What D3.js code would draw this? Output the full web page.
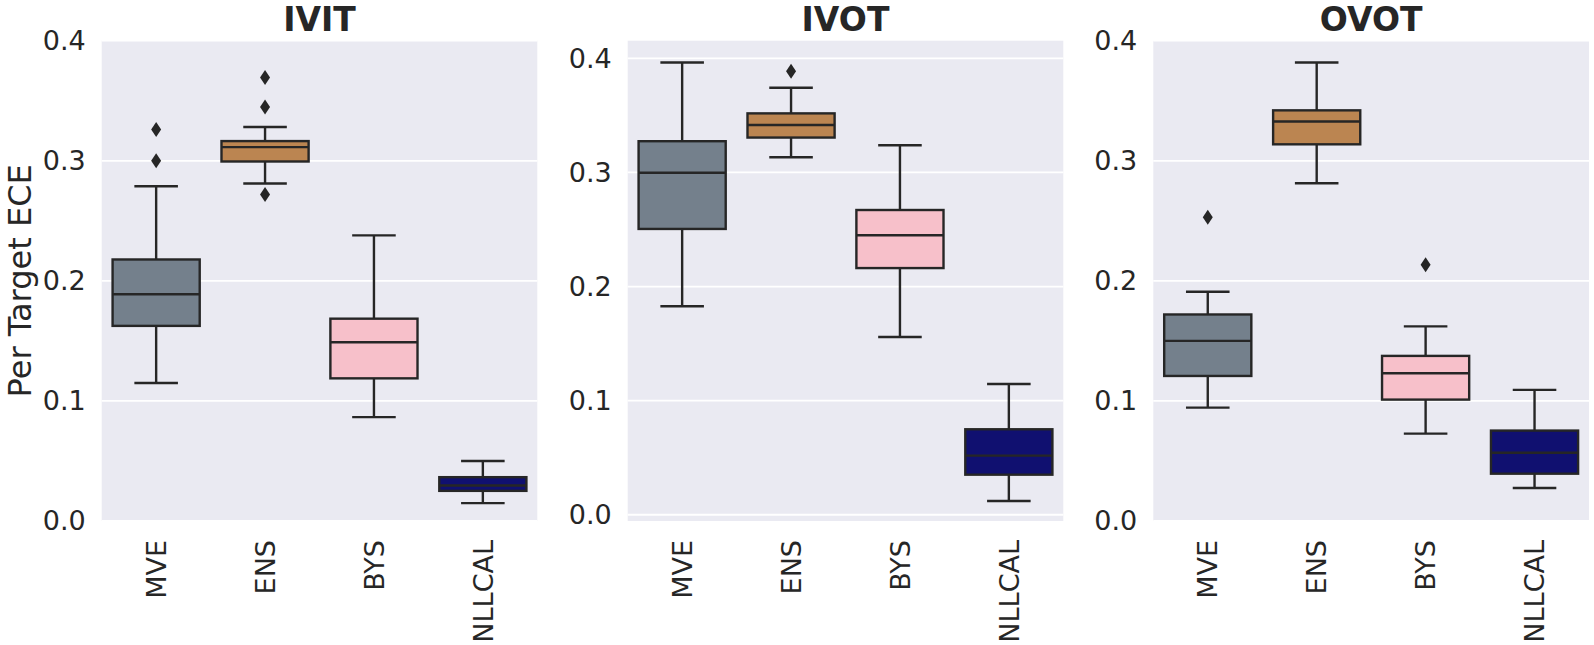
<!DOCTYPE html>
<html>
<head>
<meta charset="utf-8">
<script src="https://cdn.jsdelivr.net/npm/d3@7"></script>
<style>
  html, body { margin: 0; padding: 0; background: #ffffff; }
  svg { display: block; font-family: "DejaVu Sans", sans-serif; }
</style>
</head>
<body>
<svg id="chart" width="1594" height="645"></svg>
<script>
// ---------------- data ----------------
const categories = ["MVE", "ENS", "BYS", "NLLCAL"];
const panelTitles = ["IVIT", "IVOT", "OVOT"];
const yTickValues = [0.0, 0.1, 0.2, 0.3, 0.4];
const yAxisLabel = "Per Target ECE";

// IVIT
const ivitLow  = [0.1149, 0.2811, 0.0865, 0.0149];
const ivitQ1   = [0.1625, 0.2994, 0.1188, 0.0251];
const ivitMed  = [0.1889, 0.3114, 0.1489, 0.0296];
const ivitQ3   = [0.2178, 0.3164, 0.1685, 0.0365];
const ivitHigh = [0.2788, 0.3281, 0.2379, 0.0500];
const ivitOut  = [[0.300, 0.326], [0.3694, 0.3448, 0.2719], [], []];

// IVOT
const ivotLow  = [0.1827, 0.3134, 0.1558, 0.0120];
const ivotQ1   = [0.2505, 0.3306, 0.2162, 0.0351];
const ivotMed  = [0.2997, 0.3416, 0.2450, 0.0518];
const ivotQ3   = [0.3274, 0.3518, 0.2671, 0.0749];
const ivotHigh = [0.3964, 0.3742, 0.3239, 0.1146];
const ivotOut  = [[], [0.3888], [], []];

// OVOT
const ovotLow  = [0.0944, 0.2813, 0.0728, 0.0275];
const ovotQ1   = [0.1208, 0.3137, 0.1011, 0.0394];
const ovotMed  = [0.1500, 0.3327, 0.1231, 0.0569];
const ovotQ3   = [0.1720, 0.3420, 0.1375, 0.0753];
const ovotHigh = [0.1909, 0.3819, 0.1621, 0.1092];
const ovotOut  = [[0.253], [], [0.2135], []];

const yDomains = [[0, 0.4], [-0.0055, 0.4155], [0, 0.4]];

// ---------------- styles / layout ----------------
const boxColors = ["#74808C", "#BB8551", "#F7C0CA", "#101070"];
const lineColor = "#262626";
const textColor = "#262626";
const bgColor = "#EAEAF2";

const panelX = [[101.7, 537.3], [627.7, 1063.3], [1153.3, 1589]];
const plotTop = 40.7, plotBottom = 521;
const strokeW = 2.4;

const panels = [
  {title: panelTitles[0], low: ivitLow, q1: ivitQ1, med: ivitMed, q3: ivitQ3, high: ivitHigh, out: ivitOut, dom: yDomains[0]},
  {title: panelTitles[1], low: ivotLow, q1: ivotQ1, med: ivotMed, q3: ivotQ3, high: ivotHigh, out: ivotOut, dom: yDomains[1]},
  {title: panelTitles[2], low: ovotLow, q1: ovotQ1, med: ovotMed, q3: ovotQ3, high: ovotHigh, out: ovotOut, dom: yDomains[2]},
];

const svg = d3.select("#chart");

panels.forEach((p, pi) => {
  const [x0, x1] = panelX[pi];
  const x = d3.scaleBand().domain(categories).range([x0, x1]).paddingInner(0).paddingOuter(0);
  const y = d3.scaleLinear().domain(p.dom).range([plotBottom, plotTop]);
  const g = svg.append("g");

  // background
  g.append("rect")
    .attr("x", x0).attr("y", plotTop)
    .attr("width", x1 - x0).attr("height", plotBottom - plotTop)
    .attr("fill", bgColor);

  // grid
  g.selectAll(".grid").data(yTickValues.filter(v => y(v) >= plotTop - 0.5 && y(v) <= plotBottom + 0.5))
    .enter().append("line")
    .attr("x1", x0).attr("x2", x1)
    .attr("y1", d => y(d)).attr("y2", d => y(d))
    .attr("stroke", "#ffffff").attr("stroke-width", 1.8);

  const bw = x.bandwidth() * 0.8;
  const capW = bw * 0.5;
  const cx = c => x(c) + x.bandwidth() / 2;

  categories.forEach((c, i) => {
    const xc = cx(c);
    // whiskers
    g.append("line").attr("x1", xc).attr("x2", xc)
      .attr("y1", y(p.q3[i])).attr("y2", y(p.high[i]))
      .attr("stroke", lineColor).attr("stroke-width", strokeW);
    g.append("line").attr("x1", xc).attr("x2", xc)
      .attr("y1", y(p.q1[i])).attr("y2", y(p.low[i]))
      .attr("stroke", lineColor).attr("stroke-width", strokeW);
    // caps
    [p.high[i], p.low[i]].forEach(v => {
      g.append("line").attr("x1", xc - capW / 2).attr("x2", xc + capW / 2)
        .attr("y1", y(v)).attr("y2", y(v))
        .attr("stroke", lineColor).attr("stroke-width", strokeW);
    });
    // box
    g.append("rect")
      .attr("x", xc - bw / 2).attr("width", bw)
      .attr("y", y(p.q3[i])).attr("height", y(p.q1[i]) - y(p.q3[i]))
      .attr("fill", boxColors[i]).attr("stroke", lineColor).attr("stroke-width", strokeW);
    // median
    g.append("line").attr("x1", xc - bw / 2).attr("x2", xc + bw / 2)
      .attr("y1", y(p.med[i])).attr("y2", y(p.med[i]))
      .attr("stroke", lineColor).attr("stroke-width", strokeW);
    // outliers (thin diamonds)
    const dw = 5, dh = 7.5;
    g.selectAll(null).data(p.out[i]).enter().append("path")
      .attr("transform", d => `translate(${xc},${y(d)})`)
      .attr("d", `M0,${-dh}L${dw},0L0,${dh}L${-dw},0Z`)
      .attr("fill", lineColor);
  });

  // y axis
  const yAxis = d3.axisLeft(y).tickValues(yTickValues).tickFormat(d3.format(".1f")).tickSize(0).tickPadding(16);
  const ya = g.append("g").attr("transform", `translate(${x0},0)`).call(yAxis);
  ya.select(".domain").remove();
  ya.selectAll("text").attr("font-size", 27).attr("fill", textColor)
    .attr("font-family", "DejaVu Sans, sans-serif");

  // x axis
  const xAxis = d3.axisBottom(x).tickSize(0).tickPadding(0);
  const xa = g.append("g").attr("transform", `translate(0,${plotBottom})`).call(xAxis);
  xa.select(".domain").remove();
  xa.selectAll("text")
    .attr("font-size", 27).attr("fill", textColor)
    .attr("font-family", "DejaVu Sans, sans-serif")
    .attr("transform", "rotate(-90)")
    .attr("text-anchor", "end")
    .attr("x", -19).attr("y", 0).attr("dy", "0.36em");

  // title
  g.append("text")
    .attr("x", (x0 + x1) / 2).attr("y", 31)
    .attr("text-anchor", "middle")
    .attr("font-size", 33).attr("font-weight", "bold")
    .attr("fill", textColor)
    .text(p.title);
});

// y label
svg.append("text")
  .attr("transform", `translate(20,${(plotTop + plotBottom) / 2}) rotate(-90)`)
  .attr("text-anchor", "middle")
  .attr("dy", "0.35em")
  .attr("font-size", 32)
  .attr("fill", textColor)
  .text(yAxisLabel);
</script>
</body>
</html>
